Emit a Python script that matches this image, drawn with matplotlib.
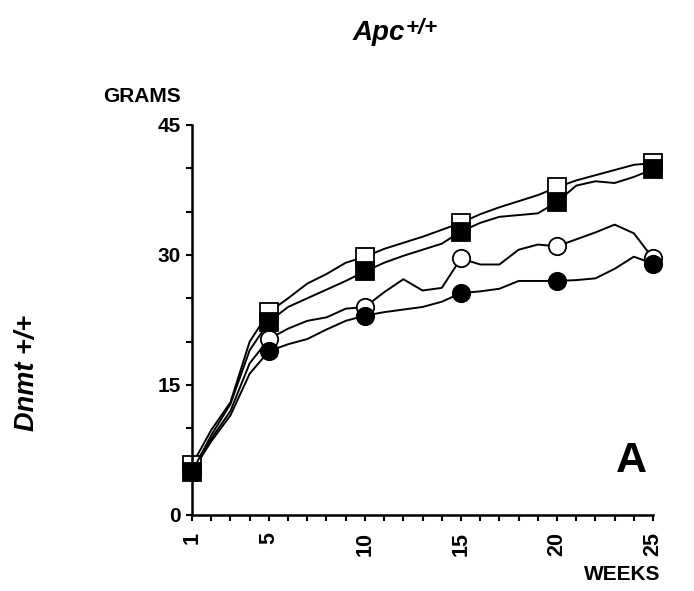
import matplotlib
matplotlib.use("Agg")
import matplotlib.pyplot as plt
from matplotlib.ticker import MultipleLocator, FixedLocator

plt.rcParams['font.family'] = ['Liberation Sans', 'DejaVu Sans']

# Datos (gramos por semana)
semanas = list(range(1, 26))
cuadrado_abierto = [5.8, 9.8, 13.0, 20.0, 23.4, 25.0, 26.7, 27.8, 29.1, 29.8, 30.7, 31.4, 32.1,
                    32.9, 33.7, 34.7, 35.5, 36.2, 36.9, 37.8, 38.6, 39.2, 39.8, 40.4, 40.6]
cuadrado_lleno = [5.0, 9.2, 12.8, 19.0, 22.3, 24.0, 25.0, 26.0, 27.0, 28.1, 29.1, 29.9, 30.6,
                  31.3, 32.7, 33.7, 34.4, 34.6, 34.8, 36.1, 38.0, 38.5, 38.3, 39.0, 39.9]
circulo_abierto = [5.3, 8.8, 12.0, 17.5, 20.3, 21.5, 22.4, 22.8, 23.8, 24.0, 25.7, 27.2, 25.9,
                   26.2, 29.6, 28.9, 28.9, 30.6, 31.2, 31.0, 31.8, 32.6, 33.5, 32.5, 29.6]
circulo_lleno = [5.0, 8.5, 11.5, 16.3, 18.9, 19.7, 20.3, 21.4, 22.4, 23.0, 23.4, 23.7, 24.0,
                 24.6, 25.6, 25.8, 26.1, 27.0, 27.0, 27.0, 27.1, 27.3, 28.4, 29.8, 29.0]
semanas_marcador = [1, 5, 10, 15, 20, 25]
etiquetas_x = ['1', '5', '10', '15', '20', '25']
etiquetas_y = [0, 15, 30, 45]

fig = plt.figure(figsize=(6.94, 5.91), dpi=100)
ax = fig.add_axes([0.2767, 0.1286, 0.6643, 0.66])

idx = [semanas.index(s) for s in semanas_marcador]
series = [
    (circulo_abierto, 'o', 'white'),
    (circulo_lleno, 'o', 'black'),
    (cuadrado_abierto, 's', 'white'),
    (cuadrado_lleno, 's', 'black'),
]
for valores, marcador, relleno in series:
    ax.plot(semanas, valores, color='black', lw=1.4, marker=marcador, markevery=idx,
            markersize=12.5, markerfacecolor=relleno, markeredgecolor='black',
            markeredgewidth=1.3, clip_on=False)

ax.set_xlim(1, 25)
ax.set_ylim(0, 45)
ax.spines['top'].set_visible(False)
ax.spines['right'].set_visible(False)
ax.spines['left'].set_linewidth(1.8)
ax.spines['bottom'].set_linewidth(1.8)

ax.xaxis.set_major_locator(FixedLocator(semanas_marcador))
ax.set_xticklabels(etiquetas_x, rotation=90, fontsize=15.5, fontweight='bold')
ax.xaxis.set_minor_locator(MultipleLocator(1))
ax.yaxis.set_major_locator(FixedLocator(etiquetas_y))
ax.set_yticklabels([str(v) for v in etiquetas_y], fontsize=15, fontweight='bold')
ax.yaxis.set_minor_locator(MultipleLocator(5))
ax.tick_params(axis='x', which='both', direction='out', length=4.5, width=1.5, pad=8)
ax.tick_params(axis='y', which='both', direction='out', length=4, width=1.5, pad=4)

fig.text(0.148, 0.827, 'GRAMS', fontsize=15, fontweight='bold', ha='left', va='baseline')
fig.text(0.951, 0.019, 'WEEKS', fontsize=15, fontweight='bold', ha='right', va='baseline')
ax.text(0.987, 0.11, 'A', transform=ax.transAxes, fontsize=31, fontweight='bold',
        ha='right', va='baseline')

titulo = fig.text(0.5086, 0.932, 'Apc', fontsize=20, fontweight='bold', style='italic',
                  ha='left', va='baseline')
ax.annotate('+/+', xy=(1.0, 1.08), xycoords=titulo, ha='left', va='top',
            fontsize=16, fontweight='bold', style='italic')
fig.text(0.039, 0.369, 'Dnmt +/+', fontsize=19.5, fontweight='bold', style='italic',
         rotation=90, ha='center', va='center')

fig.savefig('out.png', dpi=100)
